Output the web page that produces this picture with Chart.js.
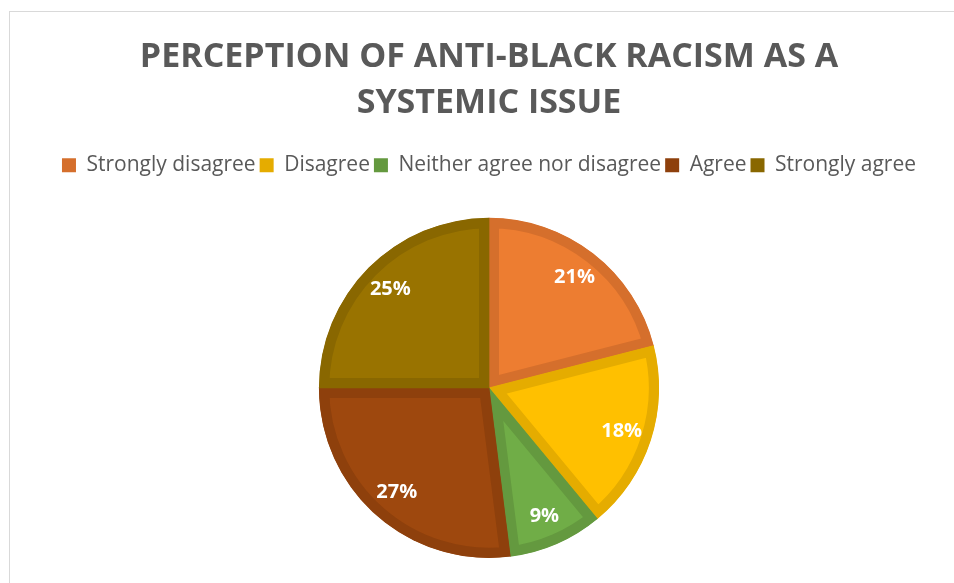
<!DOCTYPE html>
<html>
<head>
<meta charset="utf-8">
<script src="https://cdn.jsdelivr.net/npm/chart.js@4.4.1/dist/chart.umd.min.js"></script>
<style>
  html, body { margin: 0; padding: 0; background: #fff; overflow: hidden; }
  #frame { position: absolute; left: 9px; top: 11px; width: 1000px; height: 1000px; border: 1px solid #d9d9d9; }
  #wrap { position: absolute; left: 0; top: 0; width: 954px; height: 583px; }
</style>
</head>
<body>
<div id="frame"></div>
<div id="wrap"><canvas id="chart1"></canvas></div>
<script>
var titleLines = ["PERCEPTION OF ANTI-BLACK RACISM AS A", "SYSTEMIC ISSUE"];
var categories = ["Strongly disagree", "Disagree", "Neither agree nor disagree", "Agree", "Strongly agree"];
var shares = [21, 18, 9, 27, 25];
var fillColors = ["#ED7D31", "#FFC000", "#70AD47", "#9E480E", "#997300"];
var edgeColors = ["#D56F2C", "#E5AC00", "#64993F", "#8E400C", "#896700"];

// percent labels inside each slice
var sliceLabels = {
  id: "sliceLabels",
  afterDatasetsDraw: function (chart) {
    var ctx = chart.ctx;
    var meta = chart.getDatasetMeta(0);
    ctx.save();
    ctx.fillStyle = "#ffffff";
    ctx.font = "bold 20px 'Open Sans'";
    ctx.textAlign = "center";
    ctx.textBaseline = "middle";
    meta.data.forEach(function (arc, i) {
      var p = arc.getProps(["x", "y", "startAngle", "endAngle", "outerRadius"], true);
      var mid = (p.startAngle + p.endAngle) / 2;
      var r = p.outerRadius * 0.82;
      ctx.fillText(shares[i] + "%", p.x + Math.cos(mid) * r, p.y + Math.sin(mid) * r);
    });
    ctx.restore();
  },
};

// extra room under the legend
var legendGap = {
  id: "legendGap",
  beforeInit: function (chart) {
    var fit = chart.legend.fit;
    chart.legend.fit = function () {
      fit.bind(chart.legend)();
      this.height += 32;
    };
  },
};

var ctx = document.getElementById("chart1");
var myChart = new Chart(ctx, {
  type: "pie",
  data: {
    labels: categories,
    datasets: [
      {
        data: shares,
        backgroundColor: fillColors,
        borderColor: edgeColors,
        borderWidth: 10,
        borderAlign: "inner",
        hoverOffset: 0,
        hoverBorderWidth: 10,
      },
    ],
  },
  options: {
    responsive: true,
    maintainAspectRatio: false,
    animation: false,
    layout: {
      padding: { left: 24, right: 0, top: 34, bottom: 25 },
    },
    plugins: {
      title: {
        display: true,
        text: titleLines,
        color: "#595959",
        font: { family: "'Open Sans'", size: 34, weight: "bold", lineHeight: 1.35 },
        padding: { top: 0, bottom: 25 },
      },
      legend: {
        position: "top",
        labels: {
          color: "#595959",
          font: { family: "'Open Sans'", size: 21 },
          boxWidth: 14,
          boxHeight: 14,
          padding: 4,
          generateLabels: function (chart) {
            return categories.map(function (c, i) {
              return { text: c, fillStyle: edgeColors[i], strokeStyle: edgeColors[i], lineWidth: 0, index: i, fontColor: "#595959" };
            });
          },
        },
      },
      tooltip: { enabled: false },
    },
  },
  plugins: [sliceLabels, legendGap],
});
</script>
</body>
</html>
